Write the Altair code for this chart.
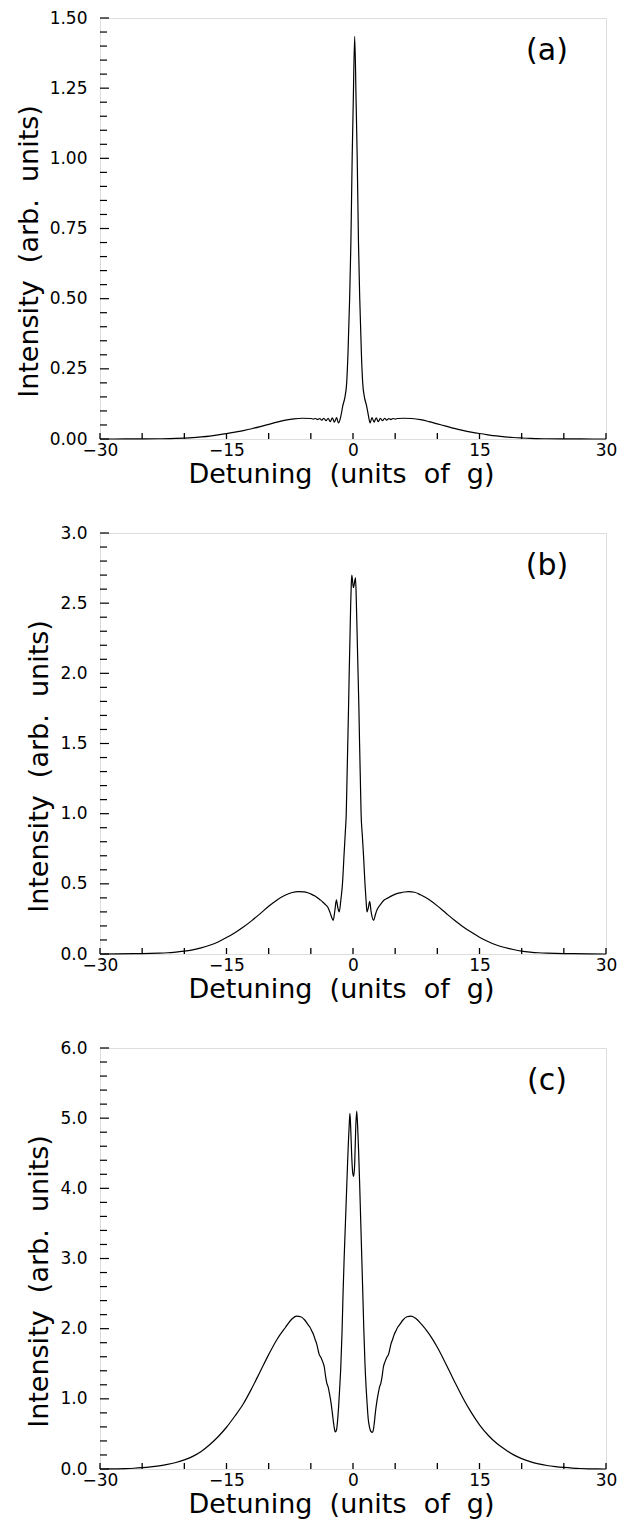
import altair as alt
import pandas as pd

# ---------------- data ----------------
XA = [-30, -27, -25, -23, -21, -20, -19, -18, -17, -16, -15, -14, -13, -12, -11, -10, -9, -8, -7, -6,
      -5.0, -4.7, -4.45, -4.2, -3.95, -3.7, -3.45, -3.2, -2.95, -2.7, -2.45, -2.2, -1.95, -1.72,
      -1.45, -1.2, -0.95, -0.75, -0.6, -0.4, -0.25, -0.1, 0.03, 0.2, 0.37, 0.5, 0.65, 0.8, 1.0, 1.15,
      1.35, 1.6, 1.85, 2.02, 2.25, 2.5, 2.75, 3.0, 3.25, 3.5, 3.75, 4.0, 4.25, 4.5, 4.75, 5.0, 5.3,
      6, 7, 8, 9, 10, 11, 12, 13, 14, 15, 16, 17, 18, 19, 20, 21, 23, 25, 27, 30]
YA = [0, 0.0001, 0.0003, 0.0008, 0.002, 0.0033, 0.005, 0.0075, 0.0105, 0.0145, 0.019, 0.0242, 0.03, 0.0365,
      0.044, 0.052, 0.06, 0.067, 0.072, 0.074,
      0.073, 0.071, 0.073, 0.069, 0.073, 0.067, 0.074, 0.065, 0.074, 0.062, 0.075, 0.060, 0.076, 0.057,
      0.08, 0.12, 0.15, 0.2, 0.3, 0.5, 0.7, 1.0, 1.2, 1.435, 1.2, 1.0, 0.7, 0.5, 0.3, 0.2,
      0.15, 0.12, 0.08, 0.057, 0.076, 0.060, 0.075, 0.062, 0.074, 0.065, 0.074, 0.067, 0.073, 0.069,
      0.073, 0.071, 0.073,
      0.074, 0.073, 0.069, 0.062, 0.054, 0.046, 0.038, 0.031, 0.0248, 0.0195, 0.015, 0.011, 0.0078, 0.0053,
      0.0035, 0.002, 0.0008, 0.0003, 0.0001, 0]

XB = [-30, -28, -26, -24, -23, -22, -21, -20, -19, -18, -17, -16, -15, -14, -13, -12, -11, -10, -9, -8,
      -7.2, -6.5, -5.8, -5.3, -4.9, -4.6, -4.3, -4.1, -3.8, -3.5, -3.2, -3.0, -2.75, -2.55, -2.35,
      -2.15, -1.97, -1.8, -1.63, -1.45, -1.25, -1.05, -0.9, -0.8, -0.71, -0.62, -0.53, -0.45, -0.36,
      -0.27, -0.2, -0.14, 0.05, 0.3, 0.4, 0.5, 0.6, 0.7, 0.78, 0.87, 0.96, 1.1, 1.25, 1.42, 1.55,
      1.66, 1.82, 1.98, 2.15, 2.45, 2.65, 2.85, 3.1, 3.4, 3.7, 4.0, 4.3, 4.7, 5.1, 5.6, 6.1, 6.6,
      7.3, 8, 9, 10, 11, 12, 13, 14, 15, 16, 17, 18, 19, 20, 21, 22, 23, 24, 26, 28, 30]
YB = [0, 0.0005, 0.002, 0.004, 0.006, 0.009, 0.014, 0.02, 0.03, 0.044, 0.062, 0.086, 0.117, 0.152,
      0.192, 0.238, 0.288, 0.34, 0.385, 0.42,
      0.438, 0.444, 0.443, 0.435, 0.425, 0.416, 0.405, 0.395, 0.382, 0.365, 0.348, 0.335, 0.30, 0.265, 0.24,
      0.31, 0.385, 0.33, 0.30, 0.38, 0.5, 0.72, 0.88, 1.0, 1.25, 1.5, 1.75, 2.0, 2.25,
      2.5, 2.64, 2.70, 2.61, 2.68, 2.5, 2.25, 2.0, 1.75, 1.5, 1.25, 1.0, 0.85, 0.7, 0.5, 0.38,
      0.30, 0.33, 0.375, 0.30, 0.24, 0.28, 0.315, 0.34, 0.365, 0.385, 0.395, 0.405, 0.418, 0.428,
      0.436, 0.442, 0.444,
      0.44, 0.422, 0.388, 0.343, 0.292, 0.242, 0.196, 0.156, 0.12, 0.089, 0.064, 0.046, 0.032, 0.021,
      0.014, 0.009, 0.006, 0.004, 0.002, 0.0005, 0]

XC = [-30, -29, -28, -27, -26, -25, -24, -23, -22, -21, -20, -19, -18, -17, -16, -15, -14, -13, -12,
      -11, -10, -9, -8, -7.3, -6.7, -6.2, -5.7, -5.3, -5.1, -4.9, -4.7, -4.5, -4.3, -4.15, -4.0, -3.8,
      -3.6, -3.4, -3.25, -3.1, -2.95, -2.8, -2.6, -2.45, -2.3, -2.2, -2.1, -1.95, -1.82, -1.7, -1.58,
      -1.45, -1.3, -1.18, -1.05, -0.9, -0.78, -0.66, -0.55, -0.45, -0.36, -0.27, -0.15, -0.03, 0.08,
      0.2, 0.32, 0.44, 0.55, 0.66, 0.78, 0.9, 1.02, 1.14, 1.28, 1.42, 1.56, 1.68, 1.8, 1.95, 2.1,
      2.3, 2.42, 2.52, 2.65, 2.8, 3.0, 3.15, 3.3, 3.45, 3.6, 3.8, 4.0, 4.2, 4.35, 4.5, 4.7, 4.9, 5.1,
      5.3, 5.5, 5.9, 6.4, 6.9, 7.5, 8, 9, 10, 11, 12, 13, 14, 15, 16, 17, 18, 19, 20, 21, 22, 23, 24,
      25, 26, 27, 28, 29, 30]
YC = [0, 0.001, 0.003, 0.006, 0.011, 0.019, 0.03, 0.045, 0.065, 0.093, 0.13, 0.18, 0.25, 0.345, 0.46,
      0.595, 0.755, 0.93, 1.15, 1.39, 1.63, 1.85, 2.02, 2.13, 2.18, 2.17, 2.12, 2.05, 2.02, 1.97, 1.92,
      1.85, 1.78, 1.70, 1.63, 1.59, 1.53, 1.45, 1.32, 1.22, 1.17, 1.08, 0.94, 0.8, 0.65, 0.57, 0.53,
      0.56, 0.7, 0.9, 1.15, 1.45, 1.95, 2.5, 3.0, 3.5, 3.9, 4.3, 4.65, 4.9, 5.07, 4.85, 4.45, 4.22,
      4.17, 4.35, 4.85, 5.10, 4.88, 4.55, 4.1, 3.6, 3.1, 2.6, 2.0, 1.5, 1.15, 0.92, 0.72, 0.6, 0.54,
      0.52, 0.56, 0.65, 0.8, 0.94, 1.08, 1.17, 1.22, 1.32, 1.45, 1.53, 1.59, 1.63, 1.70, 1.78, 1.85,
      1.92, 1.97, 2.02, 2.05, 2.12, 2.17, 2.18, 2.14, 2.08, 1.93, 1.735, 1.50, 1.255, 1.02, 0.81, 0.63,
      0.485, 0.37, 0.28, 0.205, 0.148, 0.105, 0.073, 0.05, 0.034, 0.022, 0.013, 0.007, 0.003, 0.001, 0]

X_LABELS = [-30, -15, 0, 15, 30]
X_TICKS = list(range(-30, 31, 5))

YA_LABELS = [0, 0.25, 0.5, 0.75, 1.0, 1.25, 1.5]
YB_LABELS = [0, 0.5, 1.0, 1.5, 2.0, 2.5, 3.0]
YC_LABELS = [0, 1.0, 2.0, 3.0, 4.0, 5.0, 6.0]

PANEL_LABELS = ["(a)", "(b)", "(c)"]

NB = "\u00a0"
XTITLE = f"Detuning{NB}{NB}(units{NB}{NB}of{NB}{NB}g)"
YTITLE = f"Intensity{NB}{NB}(arb.{NB}{NB}units)"

FONT = "'DejaVu Sans', sans-serif"
W, H = 506, 421


def panel(xs, ys, ylabels, ymax, fmt, label):
    df = pd.DataFrame({"x": xs, "y": ys})
    xsc = alt.Scale(domain=[-30, 30], nice=False, zero=False)
    ysc = alt.Scale(domain=[0, ymax], nice=False, zero=False)
    xax = alt.Axis(values=X_LABELS, format="d", title=XTITLE, ticks=False, tickSize=0,
                   domain=False, grid=False, labelFlush=False, labelOverlap=False,
                   labelPadding=3, labelFontSize=17, labelFont=FONT, labelColor="black",
                   titleFont=FONT, titleFontSize=27, titleFontWeight="normal",
                   titleColor="black", titlePadding=3, titleX=241)
    yax = alt.Axis(values=ylabels, format=fmt, title=YTITLE, ticks=False, tickSize=0,
                   domain=False, grid=False, labelFlush=False, labelOverlap=False,
                   labelPadding=13, labelFontSize=17, labelFont=FONT, labelColor="black",
                   titleFont=FONT, titleFontSize=27, titleFontWeight="normal",
                   titleColor="black", titlePadding=6, titleY=233)

    line = alt.Chart(df).mark_line(color="black", strokeWidth=1.2, interpolate="monotone").encode(
        x=alt.X("x:Q", scale=xsc, axis=xax),
        y=alt.Y("y:Q", scale=ysc, axis=yax),
    )

    xt = alt.Chart(pd.DataFrame({"x": X_TICKS})).mark_rule(color="black", strokeWidth=1.3).encode(
        x=alt.X("x:Q", scale=xsc, axis=xax),
        y=alt.value(H), y2=alt.value(H - 6),
    )

    step = ymax / 30.0
    yt_vals = [round(i * step, 6) for i in range(31)]
    yt_major = [i % 5 == 0 for i in range(31)]
    ytdf = pd.DataFrame({"y": yt_vals, "major": yt_major})
    yt_minor = alt.Chart(ytdf).transform_filter("!datum.major").mark_rule(
        color="black", strokeWidth=1.2).encode(
        y=alt.Y("y:Q", scale=ysc, axis=yax), x=alt.value(0), x2=alt.value(7))
    yt_maj = alt.Chart(ytdf).transform_filter("datum.major").mark_rule(
        color="black", strokeWidth=1.2).encode(
        y=alt.Y("y:Q", scale=ysc, axis=yax), x=alt.value(0), x2=alt.value(9))

    txt = alt.Chart(pd.DataFrame({"label": [label]})).mark_text(
        font=FONT, fontSize=30, color="black", align="center", baseline="middle").encode(
        text="label:N", x=alt.value(447), y=alt.value(33))

    return alt.layer(line, xt, yt_minor, yt_maj, txt).properties(width=W, height=H)


pa = panel(XA, YA, YA_LABELS, 1.5, ".2f", PANEL_LABELS[0])
pb = panel(XB, YB, YB_LABELS, 3.0, ".1f", PANEL_LABELS[1])
pc = panel(XC, YC, YC_LABELS, 6.0, ".1f", PANEL_LABELS[2])

chart = alt.vconcat(pa, pb, pc, spacing=94, bounds="flush").properties(
    padding={"left": 6, "top": 0, "right": 5, "bottom": 5}
).configure_view(stroke="black", strokeWidth=1.8).configure(background="white")

chart.save("out.html", embed_options={"renderer": "svg", "actions": False})
